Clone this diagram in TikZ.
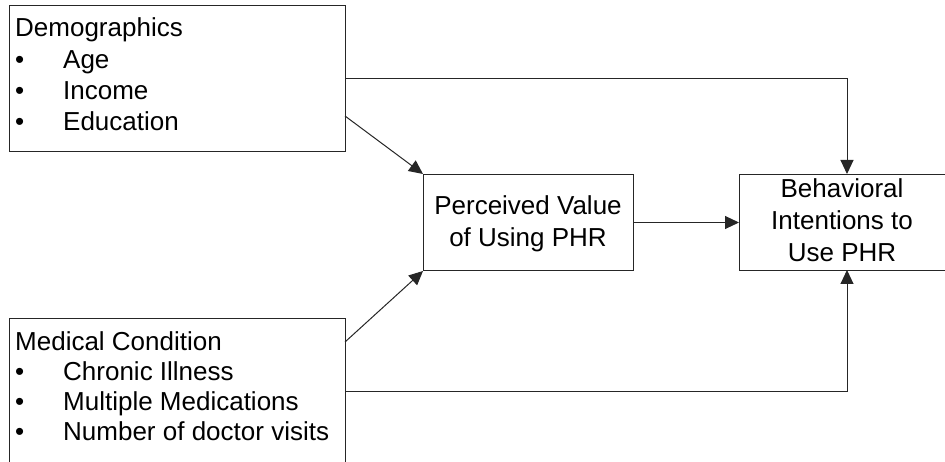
\documentclass[tikz,border=0pt]{standalone}
\usepackage{fontspec}
\setmainfont{Liberation Sans}
\usetikzlibrary{arrows.meta}
\begin{document}
\begin{tikzpicture}[x=1pt,y=-1pt,
  box/.style={draw=black!85, line width=1pt, rectangle, inner sep=0pt, anchor=north west},
  txt/.style={inner sep=0pt, anchor=base west, font=\fontsize{26}{31}\selectfont},
  ctxt/.style={inner sep=0pt, anchor=base, font=\fontsize{26}{31}\selectfont},
  conn/.style={draw=black!85, line width=1pt},
  arr/.style={conn, -{Triangle[length=14pt,width=13pt]}}]
\useasboundingbox (0,0) rectangle (945,462);
\clip (0,0) rectangle (945,462);

% boxes
\node[box, minimum width=336pt, minimum height=146pt] (demo) at (9,5) {};
\node[box, minimum width=336pt, minimum height=145pt] (med) at (9,318) {};
\node[box, minimum width=210pt, minimum height=96pt] (perc) at (423,174) {};
\node[box, minimum width=205.5pt, minimum height=96pt] (beh) at (739,174) {};

% Demographics text
\node[txt] (dt) at (15,37) {Demographics};
\node[txt] (db1) at (15,69) {\textbullet};
\node[txt] (dl1) at (63,69) {Age};
\node[txt] (db2) at (15,100) {\textbullet};
\node[txt] (dl2) at (63,100) {Income};
\node[txt] (db3) at (15,131) {\textbullet};
\node[txt] (dl3) at (63,131) {Education};

% Medical text
\node[txt] (mt) at (15,350) {Medical Condition};
\node[txt] (mb1) at (15,380) {\textbullet};
\node[txt] (ml1) at (63,380) {Chronic Illness};
\node[txt] (mb2) at (15,410) {\textbullet};
\node[txt] (ml2) at (63,410) {Multiple Medications};
\node[txt] (mb3) at (15,440) {\textbullet};
\node[txt] (ml3) at (63,440) {Number of doctor visits};

% Perceived text
\node[ctxt] (pt1) at (528,215) {Perceived Value};
\node[ctxt] (pt2) at (528,247) {of Using PHR};

% Behavioral text
\node[ctxt] (bt1) at (842,198) {Behavioral};
\node[ctxt] (bt2) at (842,230) {Intentions to};
\node[ctxt] (bt3) at (842,262) {Use PHR};

% connectors
\coordinate (dout) at (345,116);
\coordinate (mout) at (345,342);
\coordinate (btop) at (847,174);
\coordinate (bbot) at (847,270);
\draw[arr] (demo.east) -| (btop);
\draw[arr] (med.east) -| (bbot);
\draw[arr] (dout) -- (perc.north west);
\draw[arr] (mout) -- (perc.south west);
\draw[arr] (perc.east) -- (beh.west);
\end{tikzpicture}
\end{document}
